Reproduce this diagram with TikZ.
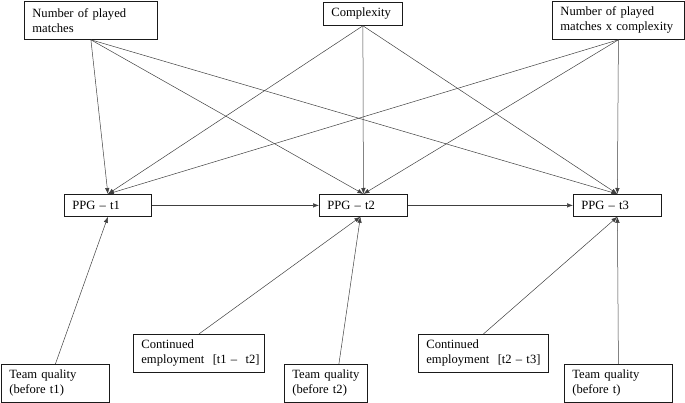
\documentclass[tikz,border=0pt]{standalone}
\usepackage{fontspec}
\setmainfont{Liberation Serif}
\usepackage{xcolor}
\usetikzlibrary{arrows.meta}
\definecolor{vbox}{HTML}{1a1a1a}
\definecolor{vline}{HTML}{404040}
\hyphenpenalty=10000
\exhyphenpenalty=10000

\tikzset{
	box/.style={draw=vbox, line width=0.8pt, anchor=north west, align=left, inner xsep=8pt, inner ysep=2pt, font=\fontsize{12.6}{15}\selectfont},
	arr/.style={draw=vline, line width=0.5pt, -{Latex[length=6pt,width=4.5pt]}}
}

\begin{document}
\begin{tikzpicture}[x=1pt, y=-1pt]
		\useasboundingbox (0,0) rectangle (685,403);
		% top row
		\node[box, minimum width=133, minimum height=38, text width=117] (matches) at (24,1) {Number~of~played\\matches};
		\node[box, minimum width=79, minimum height=23, text width=63] (complex) at (323,2) {Complexity};
		\node[box, minimum width=132, minimum height=38, text width=116] (inter) at (552,1) {Number~of~played\\matches~x~complexity};
		% middle row
		\node[box, minimum width=87, minimum height=22, text width=71] (ppga) at (64,194) {PPG~–~t1};
		\node[box, minimum width=88, minimum height=22, text width=72] (ppgb) at (319,194) {PPG~–~t2};
		\node[box, minimum width=88, minimum height=22, text width=72] (ppgc) at (573,194) {PPG~–~t3};
		% bottom row
		\node[box, minimum width=108, minimum height=38, text width=92] (tqa) at (1,364) {Team~quality\\(before~t1)};
		\node[box, minimum width=131, minimum height=38, text width=115] (cea) at (133,334) {Continued\\employment~~[t1~–~~t2]};
		\node[box, minimum width=83, minimum height=38, text width=67] (tqb) at (284,364) {Team~quality\\(before~t2)};
		\node[box, minimum width=130, minimum height=38, text width=114] (ceb) at (418,334) {Continued\\employment~~[t2~–~t3]};
		\node[box, minimum width=108, minimum height=38, text width=92] (tqc) at (564,364) {Team~quality\\(before~t)};
		% arrows from the top
		\draw[arr] (matches.south) -- (ppga.north);
		\draw[arr] (matches.south) -- (ppgb.north);
		\draw[arr] (matches.south) -- (ppgc.north);
		\draw[arr] (complex.south) -- (ppga.north);
		\draw[arr] (complex.south) -- (ppgb.north);
		\draw[arr] (complex.south) -- (ppgc.north);
		\draw[arr] (inter.south) -- (ppga.north);
		\draw[arr] (inter.south) -- (ppgb.north);
		\draw[arr] (inter.south) -- (ppgc.north);
		% arrows along the row
		\draw[arr] (ppga.east) -- (ppgb.west);
		\draw[arr] (ppgb.east) -- (ppgc.west);
		% arrows from the bottom
		\draw[arr] (tqa.north) -- (ppga.south);
		\draw[arr] (cea.north) -- ([xshift=-3pt]ppgb.south);
		\draw[arr] ([xshift=13pt]tqb.north) -- ([xshift=-3pt]ppgb.south);
		\draw[arr] (ceb.north) -- (ppgc.south);
		\draw[arr] (tqc.north) -- (ppgc.south);
	\end{tikzpicture}
\end{document}
